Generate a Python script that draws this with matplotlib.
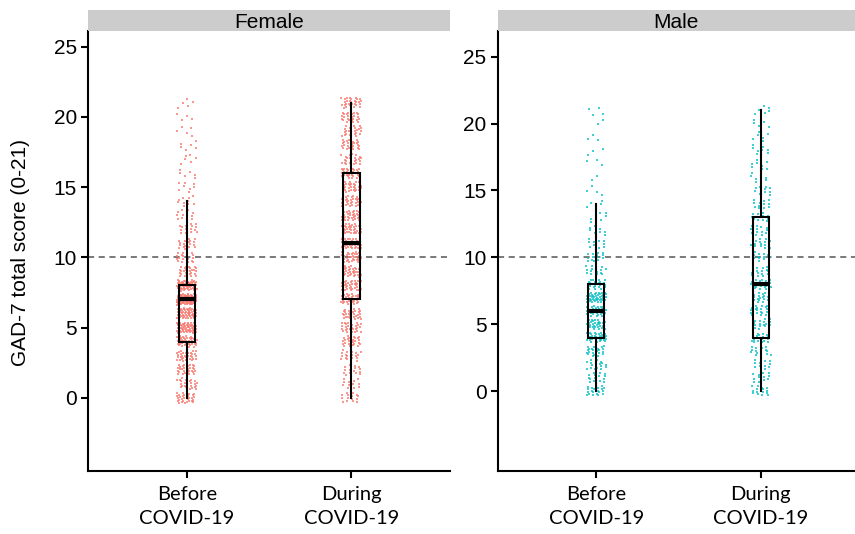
import numpy as np
import matplotlib
matplotlib.use("Agg")
import matplotlib.pyplot as plt

# ---------------- data ----------------
scores = list(range(0, 22))
periods = ["Before\nCOVID-19", "During\nCOVID-19"]
panels = ["Female", "Male"]
colors = {"Female": "#F8766D", "Male": "#00BFC4"}

# estimated number of respondents at each GAD-7 score (0..21)
female_before = [30, 25, 30, 35, 45, 60, 60, 90, 60, 25, 20, 18, 15, 12, 10, 8, 6, 6, 6, 5, 4, 5]
female_during = [15, 12, 15, 20, 25, 30, 30, 35, 35, 35, 35, 40, 35, 35, 32, 30, 30, 25, 25, 25, 25, 30]
male_before = [20, 15, 18, 22, 30, 35, 35, 45, 25, 15, 14, 10, 8, 8, 5, 4, 2, 3, 3, 3, 2, 4]
male_during = [15, 12, 12, 15, 19, 18, 20, 22, 20, 16, 15, 14, 13, 13, 12, 10, 8, 8, 8, 6, 5, 6]

counts = {
    "Female": [female_before, female_during],
    "Male": [male_before, male_during],
}
y_ticks = [0, 5, 10, 15, 20, 25]
cutoff = 10

# ---------------- figure ----------------
W, H = 855, 534
fig = plt.figure(figsize=(W / 100, H / 100), dpi=100)


def px_axes(x0, y0, x1, y1):
    return fig.add_axes([x0 / W, 1 - y1 / H, (x1 - x0) / W, (y1 - y0) / H])


def lowdisc(n, seed):
    # deterministic low-discrepancy sequence (R2) in [0,1)^2
    g = 1.32471795724474602596
    a1, a2 = 1.0 / g, 1.0 / (g * g)
    i = np.arange(1, n + 1) + seed
    return (0.5 + a1 * i) % 1.0, (0.5 + a2 * i) % 1.0


layout = {
    "Female": dict(x0=88, x1=450, ylim=(-5.22, 26.14)),
    "Male": dict(x0=497.5, x1=855, ylim=(-5.98, 26.95)),
}
top, bottom, strip_top = 30.7, 471, 10

arial = ["Liberation Sans", "DejaVu Sans"]
tick_font = dict(family=arial, size=15)
cat_font = ["Lato", "DejaVu Sans"]

seed = 0
for panel in panels:
    L = layout[panel]
    ax = px_axes(L["x0"], top, L["x1"], bottom)
    ax.set_xlim(0.4, 0.4 + 2.2 * (L["x1"] - L["x0"]) / 362.0)
    ax.set_ylim(*L["ylim"])

    ax.axhline(cutoff, color="#555555", lw=1.1, ls=(0, (4, 3)), zorder=1)

    data_all = []
    for k, cnt in enumerate(counts[panel]):
        vals = np.repeat(scores, cnt).astype(float)
        data_all.append(vals)
        u, v = lowdisc(len(vals), seed)
        seed += 977
        xs = (k + 1) + (u - 0.5) * 0.12
        ys = vals + (v - 0.5) * 0.75
        ax.scatter(xs, ys, s=1.7, marker="s", color=colors[panel],
                   alpha=0.75, linewidths=0, zorder=2)

    ax.boxplot(data_all, positions=[1, 2], widths=0.1, whis=1.5,
               showfliers=False, patch_artist=True,
               boxprops=dict(facecolor="none", edgecolor="black", linewidth=1.5),
               whiskerprops=dict(color="black", linewidth=1.5),
               capprops=dict(linewidth=0),
               medianprops=dict(color="black", linewidth=3),
               zorder=3)

    for s in ["top", "right"]:
        ax.spines[s].set_visible(False)
    for s in ["left", "bottom"]:
        ax.spines[s].set_linewidth(1.5)
        ax.spines[s].set_color("black")
    ax.set_yticks(y_ticks)
    ax.set_yticklabels([str(t) for t in y_ticks], fontdict=tick_font)
    ax.set_xticks([1, 2])
    ax.set_xticklabels(periods, family=cat_font, size=14.5, linespacing=1.45)
    ax.tick_params(axis="both", length=5, width=1.5, color="black", pad=3)
    ax.tick_params(axis="x", pad=6)
    ax.set_facecolor("white")

    sax = px_axes(L["x0"], strip_top, L["x1"], top)
    sax.set_facecolor("#CCCCCC")
    sax.set_xticks([])
    sax.set_yticks([])
    for s in sax.spines.values():
        s.set_visible(False)
    sax.text(0.5, 0.42, panel, ha="center", va="center",
             family=arial, size=15, transform=sax.transAxes)

fig.text(21 / W, 1 - 252 / H, "GAD-7 total score (0-21)", rotation=90,
         ha="center", va="center", family=arial, size=15)

fig.savefig("out.png", dpi=100, facecolor="white")
